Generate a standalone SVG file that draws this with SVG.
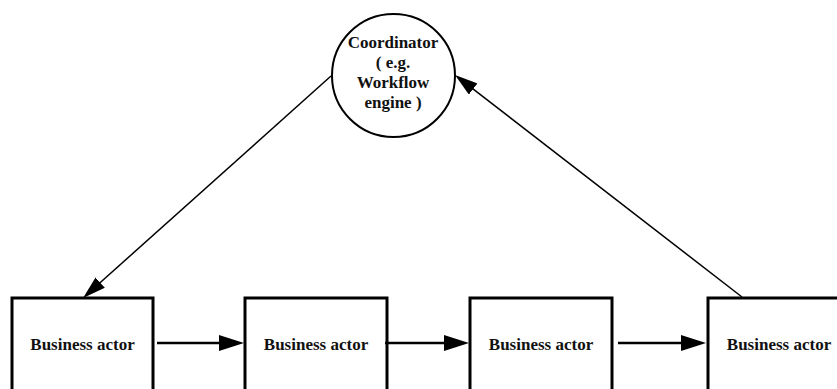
<svg xmlns="http://www.w3.org/2000/svg" width="837" height="389" viewBox="0 0 837 389">
  <style>
    .box { fill: #ffffff; stroke: #000000; stroke-width: 3; }
    .hub { fill: #ffffff; stroke: #000000; stroke-width: 2; }
    .lbl { font-family: "Liberation Serif", "DejaVu Serif", serif; font-weight: bold; font-size: 17px; fill: #111111; text-anchor: middle; }
    .flow { stroke: #000000; stroke-width: 2.5; fill: none; marker-end: url(#headBig); }
    .ctl { stroke: #000000; stroke-width: 1.5; fill: none; marker-end: url(#headSmall); }
  </style>
  <defs>
    <marker id="headBig" markerUnits="userSpaceOnUse" viewBox="0 0 25 16" refX="15" refY="8" markerWidth="25" markerHeight="16" orient="auto">
      <path d="M0,0 L25,8 L0,16 z" fill="#000000"/>
    </marker>
    <marker id="headSmall" markerUnits="userSpaceOnUse" viewBox="0 0 23 14" refX="13" refY="7" markerWidth="23" markerHeight="14" orient="auto">
      <path d="M0,0 L23,7 L0,14 z" fill="#000000"/>
    </marker>
  </defs>
  <rect width="837" height="389" fill="#ffffff"/>

  <g id="coordinator">
    <circle class="hub" cx="393.5" cy="75.5" r="61.5"/>
    <text class="lbl" x="393" y="47.5">Coordinator<tspan x="393" dy="20.3">( e.g.</tspan><tspan x="393" dy="20.3">Workflow</tspan><tspan x="393" dy="20.3">engine )</tspan></text>
  </g>

  <g id="actor1">
    <rect class="box" x="12" y="298" width="141" height="110"/>
    <text class="lbl" x="82.5" y="350">Business actor</text>
  </g>
  <g id="actor2">
    <rect class="box" x="245" y="298" width="142" height="110"/>
    <text class="lbl" x="316" y="350">Business actor</text>
  </g>
  <g id="actor3">
    <rect class="box" x="470" y="298" width="142" height="110"/>
    <text class="lbl" x="541" y="350">Business actor</text>
  </g>
  <g id="actor4">
    <rect class="box" x="708" y="298" width="142" height="110"/>
    <text class="lbl" x="779" y="350">Business actor</text>
  </g>

  <g id="connectors">
    <line class="ctl" x1="331" y1="76" x2="90.5" y2="291.3"/>
    <line class="ctl" x1="742" y1="297" x2="462.9" y2="81.1"/>
    <line class="flow" x1="157" y1="343" x2="234" y2="343"/>
    <line class="flow" x1="385" y1="343" x2="459" y2="343"/>
    <line class="flow" x1="618" y1="343" x2="696" y2="343"/>
  </g>
</svg>
